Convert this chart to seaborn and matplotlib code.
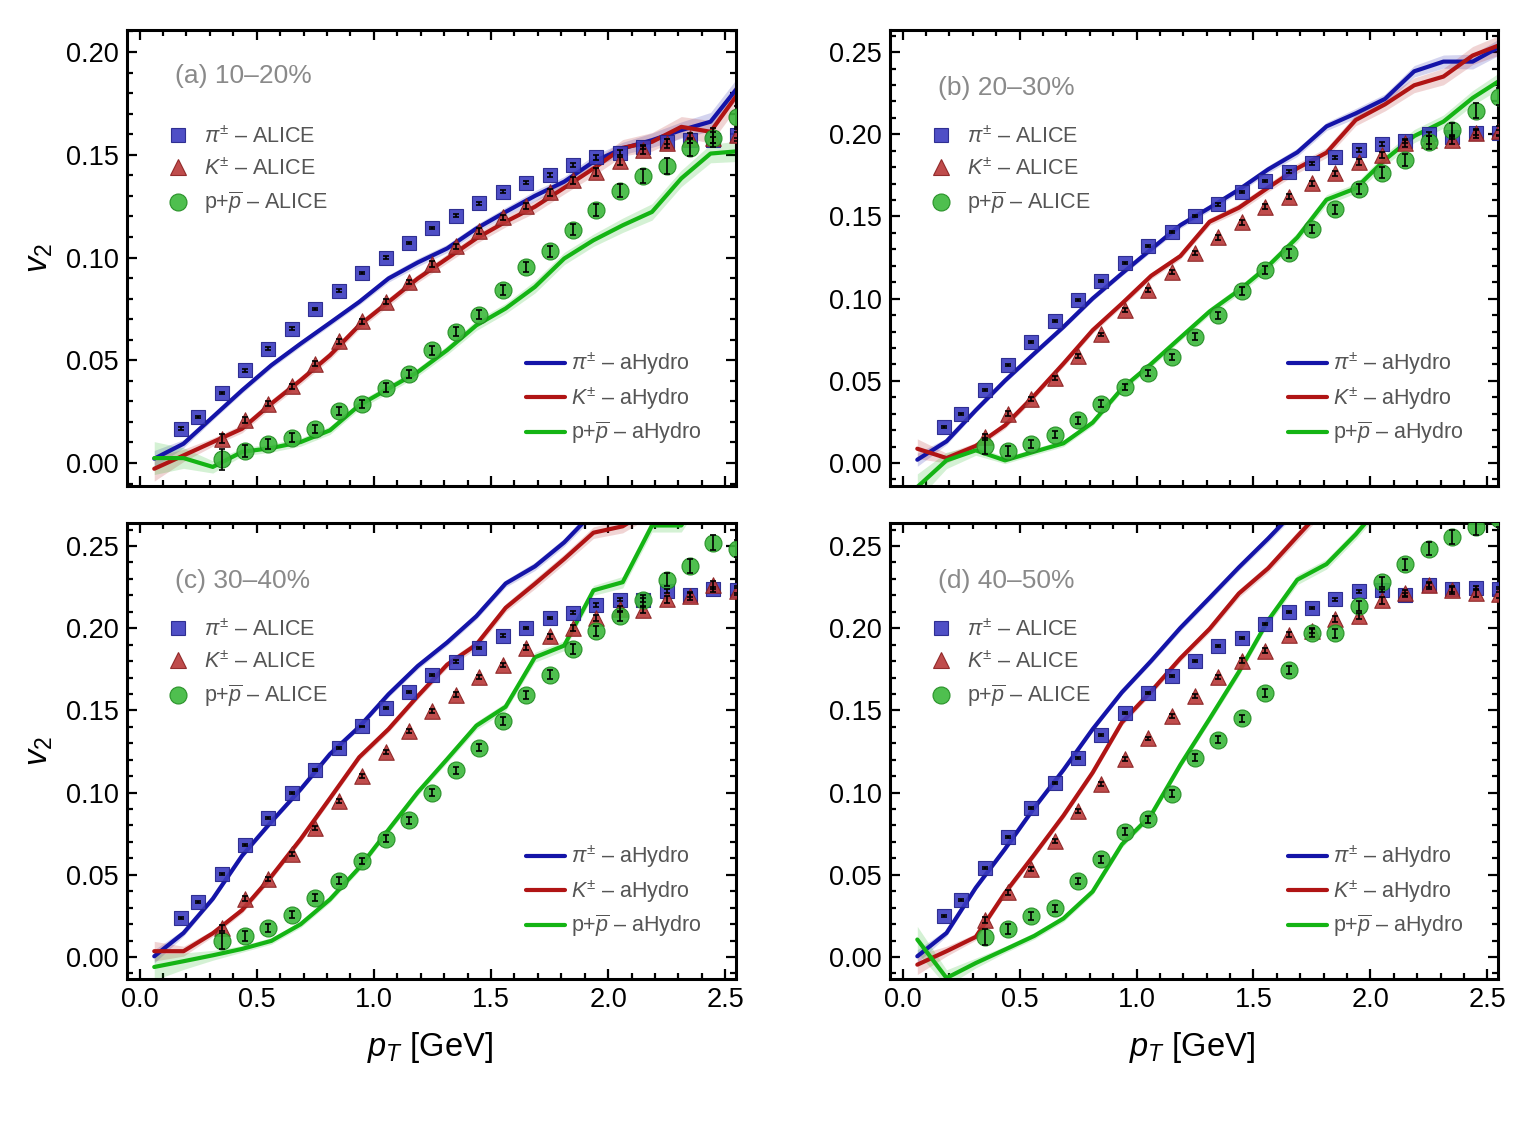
import numpy as np
import seaborn as sns
from matplotlib import pyplot as plt
from matplotlib.lines import Line2D
from matplotlib.ticker import MultipleLocator

# pT grids [GeV]
PT_PI = [0.175, 0.25, 0.35, 0.45, 0.55, 0.65, 0.75, 0.85, 0.95, 1.05, 1.15, 1.25, 1.35,
         1.45, 1.55, 1.65, 1.75, 1.85, 1.95, 2.05, 2.15, 2.25, 2.35, 2.45, 2.55]
PT_KP = [0.35, 0.45, 0.55, 0.65, 0.75, 0.85, 0.95, 1.05, 1.15, 1.25, 1.35, 1.45,
         1.55, 1.65, 1.75, 1.85, 1.95, 2.05, 2.15, 2.25, 2.35, 2.45, 2.55]
PT_HYD = [0.0625, 0.1875, 0.3125, 0.4375, 0.5625, 0.6875, 0.8125, 0.9375, 1.0625,
          1.1875, 1.3125, 1.4375, 1.5625, 1.6875, 1.8125, 1.9375, 2.0625, 2.1875,
          2.3125, 2.4375, 2.5625]

# ALICE error bars (shared by all centralities)
ERR_PI = [0.0006, 0.0006, 0.0006, 0.0006, 0.0006, 0.0006, 0.0006, 0.0006, 0.0006,
          0.0006, 0.0006, 0.0006, 0.0007, 0.0007, 0.0007, 0.0008, 0.0008, 0.0009,
          0.0010, 0.0010, 0.0011, 0.0012, 0.0013, 0.0014, 0.0015]
ERR_K = [0.0020, 0.0015, 0.0012, 0.0012, 0.0012, 0.0012, 0.0012, 0.0012, 0.0012,
         0.0013, 0.0013, 0.0014, 0.0014, 0.0015, 0.0016, 0.0017, 0.0018, 0.0019,
         0.0020, 0.0022, 0.0024, 0.0026, 0.0028]
ERR_P = [0.0050, 0.0030, 0.0025, 0.0022, 0.0020, 0.0020, 0.0020, 0.0020, 0.0020,
         0.0021, 0.0022, 0.0023, 0.0024, 0.0025, 0.0026, 0.0028, 0.0030, 0.0032,
         0.0035, 0.0038, 0.0042, 0.0046, 0.0050]

# aHydro band half-widths
BAND_PI = [0.004, 0.002, 0.0015, 0.0015, 0.0015, 0.0015, 0.0015, 0.0015, 0.0018,
           0.002, 0.002, 0.002, 0.0022, 0.0025, 0.0025, 0.003, 0.003, 0.0035,
           0.004, 0.0045, 0.005]
BAND_K = [0.006, 0.003, 0.002, 0.002, 0.002, 0.002, 0.002, 0.002, 0.002, 0.002,
          0.0022, 0.0025, 0.0025, 0.003, 0.003, 0.0035, 0.004, 0.0045, 0.005,
          0.0055, 0.006]
BAND_P = [0.008, 0.005, 0.003, 0.002, 0.002, 0.002, 0.002, 0.002, 0.002, 0.002,
          0.0022, 0.0025, 0.0025, 0.003, 0.003, 0.003, 0.0035, 0.004, 0.004,
          0.0045, 0.005]

# (a) 10-20%
V2_PI_A = [0.0167, 0.0224, 0.0341, 0.0451, 0.0557, 0.0654, 0.0750, 0.0839, 0.0925,
           0.1000, 0.1070, 0.1143, 0.1203, 0.1263, 0.1320, 0.1364, 0.1401, 0.1450,
           0.1487, 0.1511, 0.1539, 0.1563, 0.1571, 0.1571, 0.1596]
V2_K_A = [0.0119, 0.0211, 0.0289, 0.0373, 0.0484, 0.0593, 0.0690, 0.0784, 0.0881,
          0.0969, 0.1055, 0.1130, 0.1195, 0.1250, 0.1317, 0.1375, 0.1417, 0.1469,
          0.1523, 0.1555, 0.1580, 0.1583, 0.1596]
V2_P_A = [0.0018, 0.0058, 0.0091, 0.0122, 0.0167, 0.0252, 0.0289, 0.0367, 0.0435,
          0.0549, 0.0638, 0.0722, 0.0841, 0.0955, 0.1031, 0.1136, 0.1231, 0.1325,
          0.1396, 0.1446, 0.1534, 0.1584, 0.1685]
HYD_PI_A = [0.0021, 0.0094, 0.0224, 0.0354, 0.0476, 0.0581, 0.0682, 0.0784, 0.0898,
            0.0976, 0.1044, 0.1141, 0.1222, 0.1300, 0.1369, 0.1466, 0.1531, 0.1571,
            0.1620, 0.1661, 0.1840]
HYD_K_A = [-0.0028, 0.0037, 0.0102, 0.0167, 0.0289, 0.0403, 0.0524, 0.0670, 0.0784,
           0.0898, 0.0995, 0.1093, 0.1174, 0.1247, 0.1339, 0.1433, 0.1534, 0.1563,
           0.1636, 0.1612, 0.1810]
HYD_P_A = [0.0024, 0.0024, -0.0019, 0.0054, 0.0073, 0.0102, 0.0159, 0.0281, 0.0362,
           0.0443, 0.0549, 0.0670, 0.0752, 0.0857, 0.0995, 0.1084, 0.1157, 0.1222,
           0.1385, 0.1506, 0.1518]

# (b) 20-30%
V2_PI_B = [0.0219, 0.0300, 0.0447, 0.0595, 0.0737, 0.0865, 0.0991, 0.1106, 0.1214,
           0.1320, 0.1407, 0.1502, 0.1573, 0.1650, 0.1715, 0.1772, 0.1823, 0.1860,
           0.1904, 0.1941, 0.1959, 0.2000, 0.1985, 0.2010, 0.2010]
V2_K_B = [0.0158, 0.0300, 0.0392, 0.0518, 0.0650, 0.0782, 0.0930, 0.1052, 0.1163,
          0.1279, 0.1372, 0.1464, 0.1559, 0.1620, 0.1701, 0.1762, 0.1833, 0.1874,
          0.1945, 0.1965, 0.1965, 0.2006, 0.2020]
V2_P_B = [0.0102, 0.0073, 0.0118, 0.0173, 0.0260, 0.0361, 0.0463, 0.0548, 0.0646,
          0.0767, 0.0899, 0.1047, 0.1173, 0.1275, 0.1423, 0.1543, 0.1667, 0.1766,
          0.1843, 0.1951, 0.2026, 0.2142, 0.2229]
HYD_PI_B = [0.0020, 0.0132, 0.0321, 0.0501, 0.0666, 0.0828, 0.1001, 0.1153, 0.1301,
            0.1447, 0.1553, 0.1663, 0.1786, 0.1890, 0.2048, 0.2127, 0.2215, 0.2383,
            0.2442, 0.2442, 0.2540]
HYD_K_B = [0.0087, 0.0030, 0.0104, 0.0229, 0.0410, 0.0605, 0.0808, 0.0970, 0.1139,
           0.1259, 0.1468, 0.1553, 0.1675, 0.1793, 0.1888, 0.2087, 0.2182, 0.2298,
           0.2351, 0.2479, 0.2548]
HYD_P_B = [-0.0146, 0.0016, 0.0077, 0.0016, 0.0069, 0.0120, 0.0246, 0.0453, 0.0603,
           0.0763, 0.0922, 0.1050, 0.1198, 0.1372, 0.1602, 0.1671, 0.1845, 0.1989,
           0.2077, 0.2221, 0.2335]

# (c) 30-40%
V2_PI_C = [0.0238, 0.0333, 0.0506, 0.0681, 0.0843, 0.1000, 0.1138, 0.1274, 0.1402,
           0.1512, 0.1610, 0.1715, 0.1797, 0.1878, 0.1955, 0.2002, 0.2061, 0.2093,
           0.2142, 0.2173, 0.2173, 0.2224, 0.2205, 0.2236, 0.2230]
V2_K_C = [0.0177, 0.0354, 0.0472, 0.0628, 0.0787, 0.0949, 0.1102, 0.1244, 0.1376,
          0.1498, 0.1596, 0.1703, 0.1776, 0.1880, 0.1951, 0.2000, 0.2061, 0.2118,
          0.2112, 0.2175, 0.2193, 0.2264, 0.2228]
V2_P_C = [0.0096, 0.0126, 0.0177, 0.0258, 0.0360, 0.0465, 0.0583, 0.0720, 0.0831,
          0.1000, 0.1136, 0.1274, 0.1433, 0.1596, 0.1717, 0.1874, 0.1982, 0.2073,
          0.2169, 0.2295, 0.2378, 0.2520, 0.2484]
HYD_PI_C = [0.0004, 0.0146, 0.0354, 0.0616, 0.0823, 0.1020, 0.1234, 0.1400, 0.1598,
            0.1770, 0.1913, 0.2073, 0.2272, 0.2376, 0.2522, 0.2707, 0.289, 0.305,
            0.320, 0.335, 0.350]
HYD_K_C = [0.0035, 0.0035, 0.0144, 0.0285, 0.0490, 0.0717, 0.0965, 0.1215, 0.1386,
           0.1587, 0.1778, 0.1900, 0.2124, 0.2270, 0.2421, 0.2581, 0.2620, 0.273,
           0.285, 0.300, 0.310]
HYD_P_C = [-0.0061, -0.0026, 0.0010, 0.0049, 0.0098, 0.0199, 0.0350, 0.0543, 0.0774,
           0.1002, 0.1203, 0.1407, 0.1522, 0.1823, 0.1894, 0.2230, 0.2280, 0.2625,
           0.2625, 0.290, 0.310]

# (d) 40-50%
V2_PI_D = [0.0248, 0.0346, 0.0543, 0.0730, 0.0904, 0.1061, 0.1213, 0.1352, 0.1484,
           0.1604, 0.1707, 0.1799, 0.1890, 0.1941, 0.2026, 0.2098, 0.2122, 0.2175,
           0.2224, 0.2230, 0.2203, 0.2260, 0.2236, 0.2244, 0.2236]
V2_K_D = [0.0224, 0.0394, 0.0537, 0.0705, 0.0888, 0.1051, 0.1203, 0.1329, 0.1463,
          0.1589, 0.1701, 0.1803, 0.1864, 0.1959, 0.1986, 0.2057, 0.2077, 0.2169,
          0.2215, 0.2260, 0.2230, 0.2215, 0.2209]
V2_P_D = [0.0122, 0.0171, 0.0248, 0.0295, 0.0461, 0.0593, 0.0762, 0.0837, 0.0994,
          0.1213, 0.1321, 0.1451, 0.1604, 0.1748, 0.1972, 0.1970, 0.2134, 0.2280,
          0.2388, 0.2484, 0.2555, 0.2616, 0.2667]
HYD_PI_D = [0.0004, 0.0146, 0.0421, 0.0657, 0.0907, 0.1138, 0.1386, 0.1610, 0.1801,
            0.2002, 0.2185, 0.2370, 0.2545, 0.273, 0.290, 0.310, 0.330, 0.350, 0.370,
            0.390, 0.410]
HYD_K_D = [-0.0047, 0.0035, 0.0122, 0.0390, 0.0622, 0.0860, 0.1122, 0.1427, 0.1616,
           0.1817, 0.1996, 0.2211, 0.2364, 0.2559, 0.275, 0.290, 0.310, 0.330, 0.350,
           0.370, 0.390]
HYD_P_D = [0.0106, -0.0128, -0.0037, 0.0045, 0.0128, 0.0234, 0.0398, 0.0685, 0.0864,
           0.1169, 0.1449, 0.1734, 0.2047, 0.2295, 0.2390, 0.2571, 0.278, 0.300, 0.320,
           0.340, 0.360]

PANEL_TITLES = ['(a) 10–20%', '(b) 20–30%', '(c) 30–40%', '(d) 40–50%']
PANEL_YLIMS = [(-0.0112, 0.2107), (-0.014, 0.2634), (-0.0134, 0.264), (-0.0134, 0.264)]
PANEL_TITLE_Y = [0.900, 0.873, 0.873, 0.873]

LINE_COLORS = ['#1414a8', '#b01414', '#14b414']
FACE_COLORS = ['#3c3cc0', '#b83838', '#3cb83c']
EDGE_COLORS = ['#22228a', '#8a2020', '#1f8a1f']
MARKERS = ['s', '^', 'o']
MARKER_SIZES = [100, 125, 150]
DATA_LABELS = [r'$\pi^{\pm}$ – ALICE', r'$K^{\pm}$ – ALICE', r'p+$\overline{p}$ – ALICE']
HYD_LABELS = [r'$\pi^{\pm}$ – aHydro', r'$K^{\pm}$ – aHydro', r'p+$\overline{p}$ – aHydro']

sns.set_theme(style='ticks')
plt.rcParams['font.family'] = ['Liberation Sans', 'DejaVu Sans']
plt.rcParams['mathtext.fontset'] = 'custom'
plt.rcParams['mathtext.rm'] = 'Liberation Sans'
plt.rcParams['mathtext.it'] = 'Liberation Sans:italic'
plt.rcParams['mathtext.bf'] = 'Liberation Sans:bold'
plt.rcParams['text.color'] = 'black'
plt.rcParams['axes.labelcolor'] = 'black'
plt.rcParams['xtick.color'] = 'black'
plt.rcParams['ytick.color'] = 'black'

fig = plt.figure(figsize=(15.15, 11.34), dpi=100)
positions = [
    [0.0838, 0.5714, 0.4020, 0.4021],
    [0.5875, 0.5714, 0.4013, 0.4021],
    [0.0838, 0.1367, 0.4020, 0.4021],
    [0.5875, 0.1367, 0.4013, 0.4021],
]

panels = [
    (V2_PI_A, V2_K_A, V2_P_A, HYD_PI_A, HYD_K_A, HYD_P_A),
    (V2_PI_B, V2_K_B, V2_P_B, HYD_PI_B, HYD_K_B, HYD_P_B),
    (V2_PI_C, V2_K_C, V2_P_C, HYD_PI_C, HYD_K_C, HYD_P_C),
    (V2_PI_D, V2_K_D, V2_P_D, HYD_PI_D, HYD_K_D, HYD_P_D),
]

for i, (pos, data) in enumerate(zip(positions, panels)):
    ax = fig.add_axes(pos)
    v2_sets = data[:3]
    hyd_sets = data[3:]
    pt_sets = [PT_PI, PT_KP, PT_KP]
    err_sets = [ERR_PI, ERR_K, ERR_P]
    band_sets = [BAND_PI, BAND_K, BAND_P]

    # aHydro bands and lines
    line_handles = []
    for hyd, band, col, lab in zip(hyd_sets, band_sets, LINE_COLORS, HYD_LABELS):
        hyd = np.asarray(hyd)
        band = np.asarray(band)
        ax.fill_between(PT_HYD, hyd - band, hyd + band, color=col, alpha=0.18,
                        lw=0, zorder=1)
        sns.lineplot(x=PT_HYD, y=hyd, color=col, lw=3.0, ax=ax, zorder=2,
                     sort=False, legend=False)
        line_handles.append(Line2D([], [], color=col, lw=3.0, label=lab))

    # ALICE data points
    marker_handles = []
    for pt, v2, err, fc, ec, mk, ms, lab in zip(pt_sets, v2_sets, err_sets, FACE_COLORS,
                                                EDGE_COLORS, MARKERS, MARKER_SIZES,
                                                DATA_LABELS):
        sns.scatterplot(x=pt, y=v2, marker=mk, s=ms, color=fc, edgecolor=ec,
                        linewidth=0.8, alpha=0.9, ax=ax, zorder=3, legend=False)
        ax.errorbar(pt, v2, yerr=err, fmt='none', ecolor='black', elinewidth=1.2,
                    capsize=2.4, capthick=1.2, zorder=4)
        marker_handles.append(Line2D([], [], marker=mk, ls='none', markersize=np.sqrt(ms),
                                     markerfacecolor=fc, markeredgecolor=ec,
                                     markeredgewidth=0.8, alpha=0.9, label=lab))

    ax.set_xlim(-0.054, 2.546)
    ax.set_ylim(*PANEL_YLIMS[i])
    ax.xaxis.set_major_locator(MultipleLocator(0.5))
    ax.xaxis.set_minor_locator(MultipleLocator(0.1))
    ax.yaxis.set_major_locator(MultipleLocator(0.05))
    ax.yaxis.set_minor_locator(MultipleLocator(0.01))
    ax.xaxis.set_major_formatter(plt.FuncFormatter(lambda v, p: f'{v:.1f}'))
    ax.yaxis.set_major_formatter(plt.FuncFormatter(lambda v, p: f'{v:.2f}'))
    ax.tick_params(which='both', direction='in', top=True, right=True, width=1.6,
                   color='black', labelcolor='black', labelsize=19.5, pad=6)
    ax.tick_params(which='major', length=7)
    ax.tick_params(which='minor', length=4)
    for sp in ax.spines.values():
        sp.set_linewidth(2.2)
        sp.set_color('black')

    if i < 2:
        ax.tick_params(labelbottom=False)
    else:
        ax.set_xlabel(r'$p_T$ [GeV]', fontsize=23.5, color='black')
        ax.xaxis.set_label_coords(0.497, -0.112)
    if i % 2 == 0:
        ax.set_ylabel(r'$v_2$', fontsize=23.5, color='black')
        ax.yaxis.set_label_coords(-0.118, 0.5)

    ax.text(0.079, PANEL_TITLE_Y[i], PANEL_TITLES[i], transform=ax.transAxes,
            fontsize=19, color='#8a8a8a', ha='left', va='center')

    leg1 = ax.legend(handles=marker_handles, loc='upper left',
                     bbox_to_anchor=(0.066, 0.789), frameon=False, fontsize=15.5,
                     handlelength=1.0, handletextpad=0.7, labelspacing=0.48,
                     borderpad=0, borderaxespad=0, labelcolor='#555555')
    ax.add_artist(leg1)
    ax.legend(handles=line_handles, loc='upper left', bbox_to_anchor=(0.655, 0.297),
              frameon=False, fontsize=15.5, handlelength=1.8, handletextpad=0.3,
              labelspacing=0.38, borderpad=0, borderaxespad=0, labelcolor='#555555')

fig.savefig('out.png', dpi=100)
